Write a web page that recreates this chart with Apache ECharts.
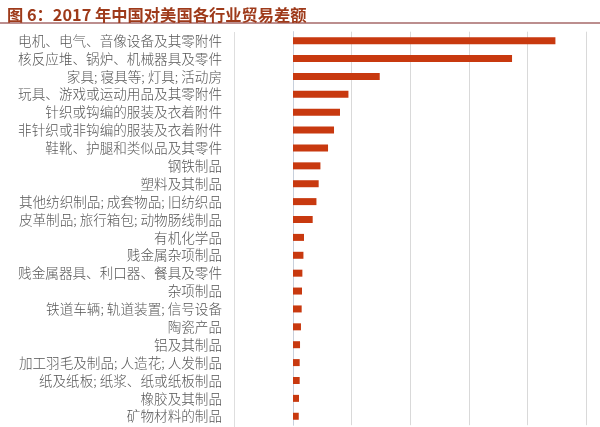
<!DOCTYPE html>
<html>
<head>
<meta charset="utf-8">
<script src="https://cdn.jsdelivr.net/npm/echarts@6/dist/echarts.min.js"></script>
<style>html,body{margin:0;padding:0;background:#fff;}#c{width:600px;height:427px;}</style>
</head>
<body>
<div id="c"></div>
<script>
var titleText = '图 6：2017 年中国对美国各行业贸易差额';
var categories = [
  '电机、电气、音像设备及其零附件',
  '核反应堆、锅炉、机械器具及零件',
  '家具; 寝具等; 灯具; 活动房',
  '玩具、游戏或运动用品及其零附件',
  '针织或钩编的服装及衣着附件',
  '非针织或非钩编的服装及衣着附件',
  '鞋靴、护腿和类似品及其零件',
  '钢铁制品',
  '塑料及其制品',
  '其他纺织制品; 成套物品; 旧纺织品',
  '皮革制品; 旅行箱包; 动物肠线制品',
  '有机化学品',
  '贱金属杂项制品',
  '贱金属器具、利口器、餐具及零件',
  '杂项制品',
  '铁道车辆; 轨道装置; 信号设备',
  '陶瓷产品',
  '铝及其制品',
  '加工羽毛及制品; 人造花; 人发制品',
  '纸及纸板; 纸浆、纸或纸板制品',
  '橡胶及其制品',
  '矿物材料的制品'
];
var values = [2239, 1869, 740, 473, 401, 350, 299, 234, 219, 200, 168, 94, 89, 80, 77, 74, 68, 60, 57, 57, 51, 49];

var chart = echarts.init(document.getElementById('c'));
chart.setOption({
  animation: false,
  backgroundColor: '#fff',
  title: {
    text: titleText,
    left: 2, top: 2,
    textStyle: {color: '#9e3a1a', fontSize: 16.3, fontWeight: 'bold', fontFamily: 'Noto Sans CJK SC'}
  },
  graphic: [
    {type: 'line', shape: {x1: 0, y1: 23, x2: 600, y2: 23}, style: {stroke: '#7a1f1f', lineWidth: 1.2}},
    {type: 'line', shape: {x1: 234.5, y1: 32, x2: 234.5, y2: 427}, style: {stroke: '#dedede', lineWidth: 1}}
  ],
  grid: {left: 293, right: 14, top: 31.7, bottom: 1.8},
  xAxis: {
    type: 'value', min: 0, max: 2500, interval: 500,
    axisLabel: {show: false}, axisTick: {show: false}, axisLine: {show: false},
    splitLine: {lineStyle: {color: '#d9d9d9', width: 1}}
  },
  yAxis: {
    type: 'category', data: categories, inverse: true,
    axisTick: {show: false},
    axisLine: {lineStyle: {color: '#c8d0dc'}},
    axisLabel: {margin: 71, color: '#555', fontSize: 13.6, fontFamily: 'Noto Sans CJK SC', fontWeight: 300}
  },
  series: [{
    type: 'bar', data: values, barWidth: 7,
    itemStyle: {color: '#c8390f'}
  }]
});
</script>
</body>
</html>
